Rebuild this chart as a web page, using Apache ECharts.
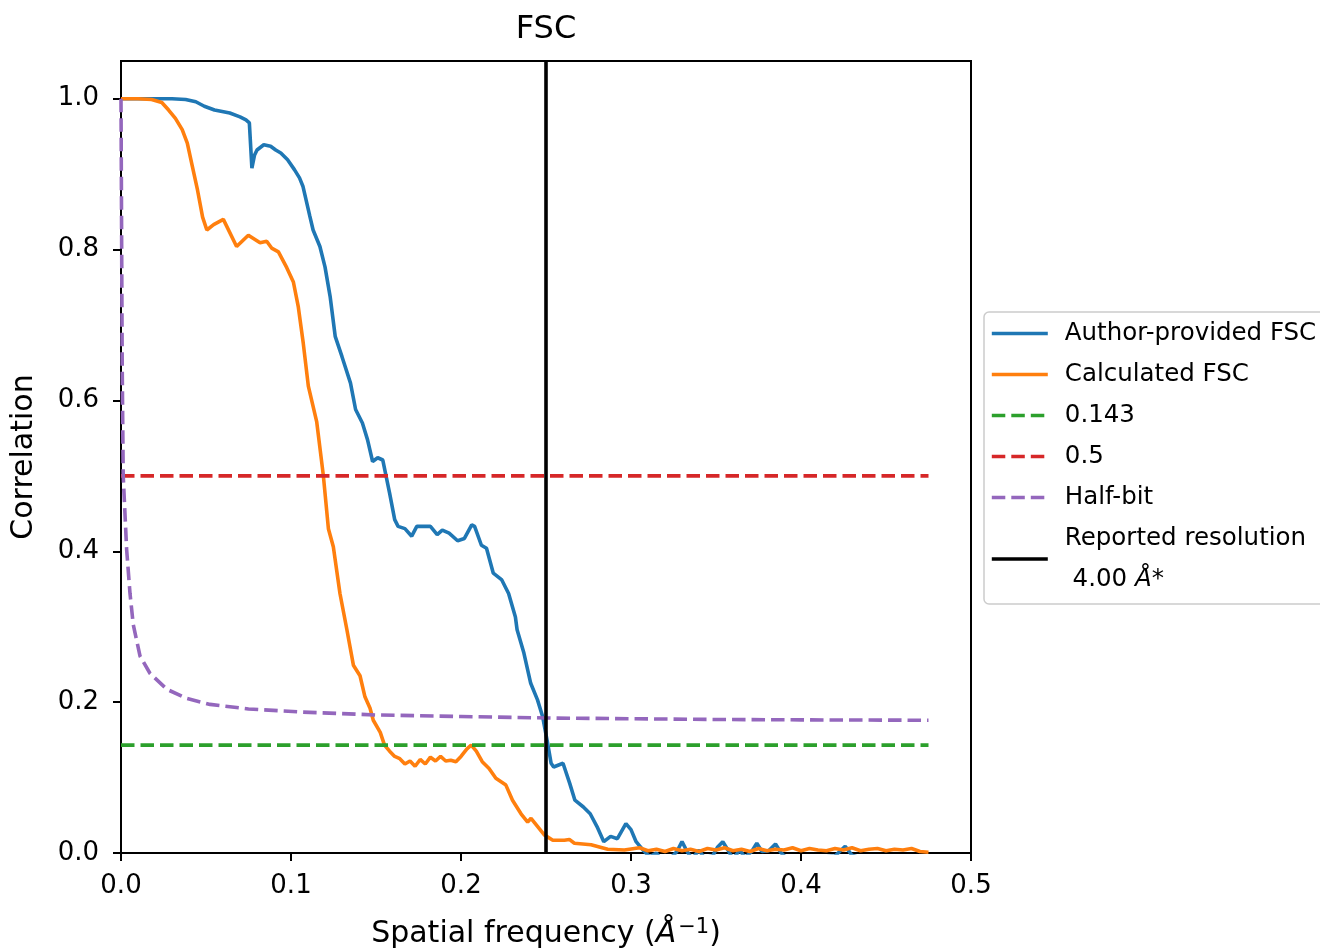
<!DOCTYPE html>
<html>
<head>
<meta charset="utf-8">
<script src="https://cdn.jsdelivr.net/npm/echarts@6/dist/echarts.min.js"></script>
<style>
html,body{margin:0;padding:0;background:#fff;}
#chart{width:1320px;height:951px;}
</style>
</head>
<body>
<div id="chart"></div>
<script>
// ---- data ----
const authorFSC = [
  [0,1.0],[0.01,1.0],[0.02,1.0],[0.03,1.0],[0.038,0.999],[0.044,0.996],[0.049,0.990],[0.055,0.985],
  [0.064,0.981],[0.070,0.976],[0.0735,0.972],[0.0745,0.970],[0.0755,0.968],[0.077,0.908],[0.0785,0.925],
  [0.080,0.932],[0.084,0.939],[0.088,0.937],[0.091,0.932],[0.094,0.928],[0.098,0.919],[0.102,0.906],
  [0.105,0.895],[0.107,0.884],[0.111,0.845],[0.113,0.826],[0.117,0.804],[0.120,0.777],[0.123,0.738],
  [0.126,0.685],[0.130,0.658],[0.135,0.623],[0.138,0.588],[0.142,0.570],[0.145,0.548],[0.148,0.519],
  [0.151,0.524],[0.154,0.521],[0.156,0.499],[0.158,0.477],[0.161,0.442],[0.163,0.433],[0.167,0.430],
  [0.171,0.420],[0.174,0.433],[0.182,0.433],[0.186,0.422],[0.189,0.428],[0.193,0.424],[0.198,0.414],
  [0.202,0.417],[0.2063,0.435],[0.208,0.433],[0.212,0.408],[0.215,0.404],[0.219,0.371],[0.224,0.362],
  [0.228,0.344],[0.232,0.313],[0.233,0.296],[0.237,0.265],[0.241,0.225],[0.245,0.203],[0.248,0.181],
  [0.251,0.145],[0.253,0.119],[0.2545,0.114],[0.260,0.119],[0.264,0.092],[0.267,0.070],[0.272,0.061],
  [0.276,0.052],[0.280,0.035],[0.284,0.015],[0.288,0.022],[0.292,0.019],[0.297,0.039],[0.300,0.031],
  [0.303,0.015],[0.307,0.004],[0.311,-0.005],[0.315,0.0],[0.318,-0.01],[0.322,-0.01],[0.327,0.002],
  [0.330,0.015],[0.333,0.002],[0.336,-0.008],[0.340,0.004],[0.343,-0.006],[0.348,-0.004],[0.351,0.008],
  [0.354,0.015],[0.357,0.004],[0.360,-0.008],[0.364,0.004],[0.367,-0.006],[0.371,0.002],[0.374,0.013],
  [0.377,0.002],[0.381,0.003],[0.385,0.012],[0.388,0.001],[0.392,-0.008],[0.400,-0.01],[0.410,-0.006],
  [0.420,-0.004],[0.426,0.009],[0.430,-0.003],[0.440,-0.01],[0.450,-0.008],[0.460,-0.01],[0.475,-0.006]
];
const calculatedFSC = [
  [0,1.0],[0.01,1.0],[0.018,0.999],[0.024,0.995],[0.028,0.985],[0.032,0.974],[0.036,0.959],[0.039,0.941],
  [0.042,0.910],[0.045,0.879],[0.048,0.843],[0.0505,0.826],[0.0545,0.833],[0.0602,0.840],[0.068,0.804],
  [0.0749,0.819],[0.0818,0.809],[0.0857,0.811],[0.0886,0.802],[0.0926,0.797],[0.0975,0.776],[0.1014,0.757],
  [0.1043,0.724],[0.1072,0.676],[0.1102,0.619],[0.1151,0.572],[0.119,0.501],[0.122,0.430],[0.1249,0.406],
  [0.1288,0.344],[0.1328,0.297],[0.1367,0.249],[0.1406,0.235],[0.1435,0.207],[0.1465,0.192],[0.1484,0.176],
  [0.1525,0.160],[0.155,0.143],[0.158,0.135],[0.161,0.128],[0.164,0.125],[0.167,0.118],[0.170,0.122],
  [0.173,0.115],[0.176,0.124],[0.179,0.118],[0.182,0.127],[0.185,0.122],[0.188,0.128],[0.191,0.122],
  [0.194,0.123],[0.197,0.121],[0.200,0.128],[0.2035,0.138],[0.206,0.143],[0.209,0.135],[0.2125,0.121],
  [0.2165,0.112],[0.2205,0.099],[0.2264,0.090],[0.2303,0.070],[0.2353,0.052],[0.2392,0.041],[0.2412,0.046],
  [0.2451,0.035],[0.249,0.024],[0.254,0.017],[0.2608,0.017],[0.2637,0.018],[0.2667,0.013],[0.2765,0.011],
  [0.2863,0.005],[0.2961,0.004],[0.305,0.007],[0.310,0.003],[0.315,0.005],[0.320,0.002],[0.325,0.006],
  [0.330,0.003],[0.335,0.005],[0.340,0.002],[0.345,0.006],[0.350,0.004],[0.355,0.007],[0.360,0.003],
  [0.365,0.005],[0.370,0.002],[0.375,0.006],[0.380,0.003],[0.385,0.005],[0.390,0.004],[0.395,0.007],
  [0.400,0.003],[0.405,0.006],[0.410,0.004],[0.415,0.003],[0.420,0.006],[0.425,0.004],[0.430,0.007],
  [0.435,0.003],[0.440,0.005],[0.445,0.006],[0.450,0.003],[0.455,0.005],[0.460,0.004],[0.465,0.006],
  [0.470,0.002],[0.475,0.001]
];
const halfBit = [
  [0,1.0],[0.0003,0.85],[0.0007,0.65],[0.0013,0.50],[0.0033,0.403],[0.0053,0.344],[0.0072,0.303],
  [0.0112,0.261],[0.0171,0.238],[0.027,0.217],[0.0386,0.205],[0.0524,0.197],[0.075,0.191],[0.105,0.187],
  [0.15,0.183],[0.2,0.181],[0.25,0.179],[0.3,0.178],[0.35,0.177],[0.4,0.1765],[0.475,0.176]
];
const line0143 = [[0,0.143],[0.475,0.143]];
const line05 = [[0,0.5],[0.475,0.5]];
const reportedRes = [[0.25,0],[0.25,1.05]];
const xTicks = [0,0.1,0.2,0.3,0.4,0.5];
const yTicks = [0,0.2,0.4,0.6,0.8,1.0];
const names = ['Author-provided FSC','Calculated FSC','0.143','0.5','Half-bit','Reported resolution'];
const colors = ['#1f77b4','#ff7f0e','#2ca02c','#d62728','#9467bd','#000000'];
const dashed = [false,false,true,true,true,false];

const FONT = 'DejaVu Sans';
const LW = 3.6;
const DASH = [13.5, 6];

const chart = echarts.init(document.getElementById('chart'), null, {renderer:'canvas'});
const seriesData = [authorFSC, calculatedFSC, line0143, line05, halfBit, reportedRes];
const series = names.map(function(name, i){
  return {
    name, type:'line', data:seriesData[i], symbol:'none', animation:false, clip:true,
    lineStyle:{color:colors[i], width:LW, type: dashed[i] ? DASH : 'solid'},
    itemStyle:{color:colors[i]}
  };
});
const legendData = names.map(function(name, i){
  return {
    name,
    itemStyle:{opacity:0},
    lineStyle:{color:colors[i], width:LW, type: dashed[i] ? DASH : 'solid', opacity:1}
  };
});
const option = {
  backgroundColor:'#fff',
  animation:false,
  title:{
    text:'FSC', left:541, top:9, textAlign:'center',
    textStyle:{fontFamily:FONT, fontSize:32, fontWeight:'normal', color:'#000'}
  },
  grid:{left:121, top:61, width:850, height:792, show:true, borderColor:'#000', borderWidth:2,
    backgroundColor:'transparent', containLabel:false, outerBoundsMode:'none'},
  legend:{
    orient:'vertical', left:984, top:312,
    padding:[1,10,4,6],
    itemGap:0, itemWidth:56, itemHeight:14,
    borderColor:'#cccccc', borderWidth:1.5, borderRadius:5, backgroundColor:'rgba(255,255,255,0.8)',
    data:legendData,
    itemStyle:{opacity:0},
    formatter:function(n){
      if(n==='Reported resolution') return '{n|Reported resolution}\n{n| 4.00 }{i|Å}{n|*}';
      return n;
    },
    textStyle:{
      fontFamily:FONT, fontSize:24.5, lineHeight:41, color:'#000', padding:[0,0,0,12],
      rich:{
        n:{fontFamily:FONT, fontSize:24.5, lineHeight:41, color:'#000'},
        i:{fontFamily:FONT, fontSize:24.5, lineHeight:41, fontStyle:'italic', color:'#000'}
      }
    }
  },
  xAxis:{
    type:'value', min:0, max:0.5, interval:0.1,
    name:'{n|Spatial frequency (}{i|Å}{s|−1}{n|)}',
    nameLocation:'middle', nameGap:64,
    nameTextStyle:{
      fontFamily:FONT, fontSize:30, color:'#000',
      rich:{
        n:{fontFamily:FONT, fontSize:30, color:'#000'},
        i:{fontFamily:FONT, fontSize:30, fontStyle:'italic', color:'#000'},
        s:{fontFamily:FONT, fontSize:21, color:'#000', verticalAlign:'top', padding:[0,0,14,2]}
      }
    },
    splitLine:{show:false},
    axisLine:{show:true, onZero:false, lineStyle:{color:'#000', width:2}},
    axisTick:{show:true, inside:false, length:8, lineStyle:{color:'#000', width:2}, customValues:xTicks},
    axisLabel:{color:'#000', fontFamily:FONT, fontSize:26, margin:20, customValues:xTicks,
      formatter:function(v){return v.toFixed(1);}}
  },
  yAxis:{
    type:'value', min:0, max:1.05,
    name:'Correlation', nameLocation:'middle', nameGap:82, nameRotate:90,
    nameTextStyle:{fontFamily:FONT, fontSize:30, color:'#000'},
    splitLine:{show:false},
    axisLine:{show:true, onZero:false, lineStyle:{color:'#000', width:2}},
    axisTick:{show:true, inside:false, length:8, lineStyle:{color:'#000', width:2}, customValues:yTicks},
    axisLabel:{color:'#000', fontFamily:FONT, fontSize:26, margin:22, customValues:yTicks,
      formatter:function(v){return v.toFixed(1);}}
  },
  series:series
};
chart.setOption(option);
</script>
</body>
</html>
